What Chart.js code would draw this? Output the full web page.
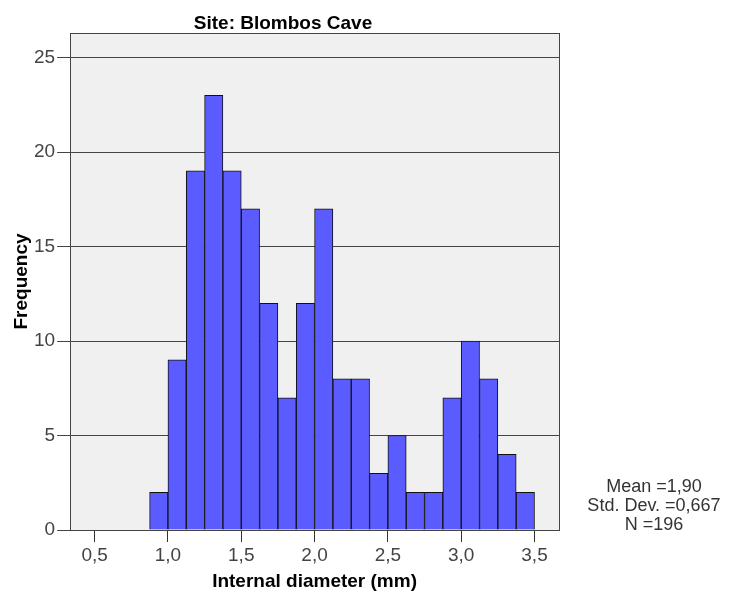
<!DOCTYPE html>
<html>
<head>
<meta charset="utf-8">
<script src="https://cdn.jsdelivr.net/npm/chart.js@4"></script>
<style>
  html, body { margin: 0; padding: 0; background: #fff; }
  #wrap { width: 729px; height: 592px; position: relative; }
</style>
</head>
<body>
<div id="wrap"><canvas id="chart"></canvas></div>
<script>
// bin centres (mm), width 0.125
const binCenters = [0.9375, 1.0625, 1.1875, 1.3125, 1.4375, 1.5625, 1.6875, 1.8125, 1.9375, 2.0625,
  2.1875, 2.3125, 2.4375, 2.5625, 2.6875, 2.8125, 2.9375, 3.0625, 3.1875, 3.3125, 3.4375];
const frequencies = [2, 9, 19, 23, 19, 17, 12, 7, 12, 17, 8, 8, 3, 5, 2, 2, 7, 10, 8, 4, 2];
const xTicks = [0.5, 1.0, 1.5, 2.0, 2.5, 3.0, 3.5];
const yTicks = [0, 5, 10, 15, 20, 25];
const statsLines = ['Mean =1,90', 'Std. Dev. =0,667', 'N =196'];

const FONT = "'Liberation Sans', Arial, sans-serif";

// grey plot background + frame + summary text
const plotDecor = {
  id: 'plotDecor',
  beforeDraw(chart) {
    const { ctx, chartArea: a } = chart;
    ctx.save();
    ctx.fillStyle = '#f0f0f0';
    ctx.fillRect(a.left, a.top, a.right - a.left, a.bottom - a.top);
    ctx.restore();
  },
  afterDraw(chart) {
    const { ctx, chartArea: a } = chart;
    ctx.save();
    ctx.strokeStyle = '#444';
    ctx.lineWidth = 1;
    ctx.strokeRect(Math.round(a.left) + 0.5, Math.round(a.top) + 0.5,
      Math.round(a.right - a.left), Math.round(a.bottom - a.top));
    ctx.fillStyle = '#333';
    ctx.font = '18px ' + FONT;
    ctx.textAlign = 'center';
    ctx.textBaseline = 'alphabetic';
    const cx = a.right + 95;
    statsLines.forEach((t, i) => {
      ctx.fillText(t, cx, a.bottom - (statsLines.length - 1 - i) * 19);
    });
    ctx.restore();
  }
};

new Chart(document.getElementById('chart'), {
  type: 'bar',
  data: {
    datasets: [{
      data: binCenters.map((x, i) => ({ x: x, y: frequencies[i] })),
      backgroundColor: '#5a5cff',
      borderColor: '#111',
      borderWidth: 1,
      barPercentage: 1.0,
      categoryPercentage: 1.0,
      grouped: false
    }]
  },
  options: {
    responsive: true,
    maintainAspectRatio: false,
    animation: false,
    layout: { padding: { left: 7, right: 170, top: 0, bottom: 0 } },
    plugins: {
      legend: { display: false },
      tooltip: { enabled: false },
      title: {
        display: true,
        text: 'Site: Blombos Cave',
        color: '#000',
        font: { family: FONT, size: 19, weight: 'bold', lineHeight: 1 },
        padding: { top: 14, bottom: 0 }
      }
    },
    scales: {
      x: {
        type: 'linear',
        min: 0.333,
        max: 3.667,
        offset: false,
        afterBuildTicks: axis => { axis.ticks = xTicks.map(v => ({ value: v })); },
        ticks: {
          color: '#444',
          font: { family: FONT, size: 19, lineHeight: 1 },
          padding: 4,
          maxRotation: 0,
          callback: v => v.toFixed(1).replace('.', ',')
        },
        grid: { offset: false, drawOnChartArea: false, drawTicks: true, tickLength: 12, color: '#333' },
        border: { display: false },
        title: {
          display: true,
          text: 'Internal diameter (mm)',
          color: '#000',
          font: { family: FONT, size: 19, weight: 'bold', lineHeight: 1 },
          padding: { top: 3, bottom: 1 }
        }
      },
      y: {
        min: 0,
        max: 26.3,
        afterBuildTicks: axis => { axis.ticks = yTicks.map(v => ({ value: v })); },
        ticks: {
          color: '#444',
          font: { family: FONT, size: 19 },
          padding: 2
        },
        grid: { color: '#444', tickColor: '#444', tickLength: 13, lineWidth: 1 },
        border: { display: false },
        title: {
          display: true,
          text: 'Frequency',
          color: '#000',
          font: { family: FONT, size: 19, weight: 'bold', lineHeight: 1 },
          padding: { top: 5, bottom: 1 }
        }
      }
    }
  },
  plugins: [plotDecor]
});
</script>
</body>
</html>
